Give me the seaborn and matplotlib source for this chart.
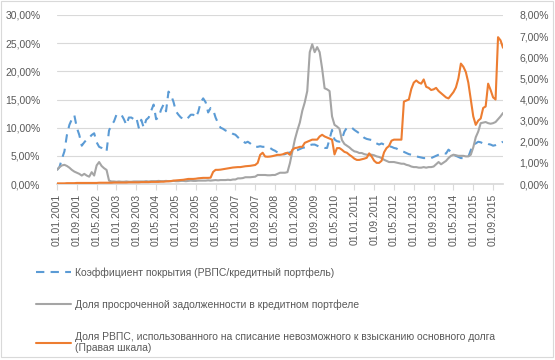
import matplotlib
matplotlib.use("Agg")
import matplotlib.pyplot as plt
import matplotlib.ticker as mticker
from matplotlib.patches import Rectangle
import seaborn as sns
import pandas as pd

# ── data (monthly, 01.01.2001 … 01.01.2016) ─────────────────
dates = pd.date_range("2001-01-01", periods=181, freq="MS")

coverage = [  # Коэффициент покрытия, % (left axis)
    2.5, 3.0, 4.5, 5.8, 8.7, 10.5, 11.5, 12.2, 10.0, 8.7, 6.8, 7.4,
    7.9, 8.2, 8.7, 9.0, 7.4, 6.6, 6.4, 5.9, 5.8, 9.5, 10.5, 11.1,
    12.3, 12.3, 12.3, 11.5, 10.5, 11.8, 11.8, 11.5, 11.8, 10.0, 11.4, 10.0,
    11.4, 11.8, 13.0, 14.1, 11.5, 11.8, 13.2, 14.1, 12.9, 16.4, 15.8, 14.6,
    12.9, 12.3, 11.8, 11.6, 11.4, 11.8, 12.3, 12.3, 11.8, 12.8, 14.5, 15.2,
    14.5, 12.7, 13.5, 13.2, 11.8, 10.8, 10.0, 9.8, 9.5, 9.3, 9.2, 8.9,
    8.75, 8.3, 7.9, 7.6, 7.3, 7.5, 7.2, 6.8, 6.6, 6.6, 6.7, 6.6,
    6.6, 6.6, 6.4, 6.1, 5.9, 5.6, 5.4, 5.2, 5.3, 5.5, 5.6, 5.8,
    5.9, 6.0, 6.2, 6.4, 6.5, 6.6, 6.9, 7.0, 7.0, 6.8, 6.6, 6.5,
    6.4, 6.4, 8.0, 9.6, 7.9, 7.6, 7.5, 8.0, 9.3, 10.0, 10.0, 10.0,
    9.6, 9.3, 9.0, 8.6, 8.2, 8.0, 7.9, 7.8, 7.4, 7.2, 7.0, 7.2,
    7.0, 6.8, 6.7, 6.6, 6.4, 6.3, 6.0, 5.8, 5.7, 5.5, 5.3, 5.2,
    5.0, 4.9, 4.8, 4.7, 4.6, 4.6, 4.5, 4.6, 4.8, 5.0, 5.2, 5.4,
    5.5, 5.4, 6.1, 5.7, 5.2, 5.0, 4.8, 4.6, 4.6, 4.7, 4.8, 6.0,
    7.0, 7.2, 7.5, 7.4, 7.2, 7.3, 7.1, 7.0, 6.8, 6.9, 7.1, 7.3,
    7.5,
]

overdue = [  # Доля просроченной задолженности, % (left axis)
    2.5, 3.0, 3.3, 3.4, 3.2, 2.9, 2.5, 2.2, 2.0, 1.8, 1.5, 1.8,
    1.5, 1.3, 2.1, 1.5, 3.3, 3.9, 3.2, 2.8, 2.5, 0.6, 0.45, 0.45,
    0.4, 0.45, 0.4, 0.4, 0.45, 0.4, 0.4, 0.45, 0.45, 0.45, 0.45, 0.45,
    0.5, 0.45, 0.5, 0.5, 0.5, 0.55, 0.5, 0.5, 0.55, 0.5, 0.5, 0.55,
    0.5, 0.5, 0.55, 0.55, 0.5, 0.55, 0.6, 0.55, 0.55, 0.6, 0.6, 0.6,
    0.6, 0.65, 0.6, 0.65, 0.7, 0.65, 0.7, 0.7, 0.7, 0.75, 0.7, 0.8,
    0.8, 1.0, 1.0, 1.05, 1.2, 1.2, 1.2, 1.25, 1.3, 1.6, 1.6, 1.6,
    1.6, 1.55, 1.55, 1.6, 1.6, 1.8, 2.0, 2.0, 2.0, 2.1, 3.7, 5.8,
    7.9, 9.5, 10.9, 13.0, 14.5, 16.5, 23.4, 24.8, 23.4, 24.3, 23.4, 20.5,
    17.0, 16.8, 16.5, 12.0, 10.5, 10.2, 9.8, 7.8, 7.1, 6.8, 6.5, 6.1,
    5.8, 5.7, 5.5, 5.5, 5.3, 5.2, 5.2, 5.2, 5.1, 4.9, 4.8, 4.6,
    4.3, 4.1, 3.9, 3.9, 3.9, 3.8, 3.7, 3.6, 3.6, 3.4, 3.3, 3.1,
    3.0, 3.0, 2.9, 2.9, 3.0, 2.9, 3.0, 3.0, 3.1, 3.5, 3.9, 3.5,
    3.8, 4.1, 4.6, 5.0, 5.2, 5.1, 5.0, 5.0, 5.0, 4.9, 4.9, 5.2,
    6.5, 8.3, 9.3, 10.8, 10.9, 11.0, 10.8, 10.7, 10.8, 11.0, 11.5, 12.0,
    12.6,
]

writeoff = [  # Доля РВПС на списание, % (right axis)
    0.03, 0.03, 0.03, 0.03, 0.04, 0.04, 0.04, 0.04, 0.05, 0.05, 0.05, 0.05,
    0.05, 0.05, 0.05, 0.05, 0.05, 0.06, 0.06, 0.06, 0.06, 0.06, 0.06, 0.07,
    0.07, 0.07, 0.07, 0.07, 0.07, 0.08, 0.08, 0.08, 0.08, 0.08, 0.09, 0.09,
    0.09, 0.09, 0.10, 0.10, 0.10, 0.10, 0.11, 0.11, 0.12, 0.13, 0.14, 0.16,
    0.17, 0.18, 0.19, 0.20, 0.22, 0.24, 0.24, 0.24, 0.25, 0.27, 0.28, 0.29,
    0.29, 0.29, 0.30, 0.57, 0.67, 0.67, 0.68, 0.70, 0.72, 0.74, 0.76, 0.78,
    0.79, 0.80, 0.80, 0.82, 0.84, 0.85, 0.86, 0.88, 0.90, 1.00, 1.38, 1.48,
    1.30, 1.29, 1.30, 1.32, 1.35, 1.38, 1.38, 1.40, 1.45, 1.48, 1.38, 1.62,
    1.70, 1.72, 1.76, 1.76, 1.95, 2.00, 2.05, 2.10, 2.10, 2.10, 2.25, 2.33,
    2.25, 2.20, 2.15, 2.10, 1.40, 1.70, 1.70, 1.62, 1.52, 1.48, 1.38, 1.30,
    1.20, 1.14, 1.14, 1.17, 1.20, 1.24, 1.45, 1.30, 1.10, 1.00, 1.00, 1.10,
    1.50, 1.70, 1.80, 2.05, 2.10, 2.10, 2.10, 2.10, 3.90, 3.95, 4.00, 4.50,
    4.80, 4.90, 4.80, 4.75, 4.95, 4.60, 4.55, 4.45, 4.48, 4.55, 4.40, 4.30,
    4.20, 4.10, 4.05, 4.20, 4.35, 4.57, 5.00, 5.70, 5.55, 5.30, 4.80, 4.00,
    3.20, 2.80, 3.00, 3.10, 3.60, 3.67, 4.75, 4.45, 4.10, 4.00, 6.95, 6.80,
    6.45,
]

labels = [
    "Коэффициент покрытия (РВПС/кредитный портфель)",
    "Доля просроченной задолженности в кредитном портфеле",
    "Доля РВПС, использованного на списание невозможного к взысканию основного долга\n(Правая шкала)",
]

BLUE, GRAY, ORANGE = "#5B9BD5", "#A5A5A5", "#ED7D31"
TXT, GRID = "#595959", "#D9D9D9"

sns.set_theme(style="white")
plt.rcParams["font.family"] = ["Liberation Sans", "DejaVu Sans"]
plt.rcParams["font.size"] = 7.5

idx = list(range(len(dates)))

fig = plt.figure(figsize=(5.55, 3.6), dpi=100, facecolor="white")
ax = fig.add_axes([57 / 555, 1 - 184 / 360, 446 / 555, 169 / 360])
ax2 = ax.twinx()

sns.lineplot(x=idx, y=coverage, ax=ax, color=BLUE, lw=1.5, estimator=None,
             linestyle=(0, (4, 3)), label=labels[0])
sns.lineplot(x=idx, y=overdue, ax=ax, color=GRAY, lw=1.5, estimator=None,
             label=labels[1])
sns.lineplot(x=idx, y=writeoff, ax=ax2, color=ORANGE, lw=1.5, estimator=None,
             label=labels[2])

for a in (ax, ax2):
    if a.get_legend():
        a.get_legend().remove()
    for s in a.spines.values():
        s.set_visible(False)
    a.set_xlabel("")
    a.set_ylabel("")

ax.set_xlim(0, len(idx) - 1)
ax.set_ylim(0, 30)
ax2.set_ylim(0, 8)
ax.set_yticks(range(0, 31, 5))
ax2.set_yticks(range(0, 9, 1))
pct = mticker.FuncFormatter(lambda v, _: f"{v:.2f}%".replace(".", ","))
ax.yaxis.set_major_formatter(pct)
ax2.yaxis.set_major_formatter(pct)

xt = idx[::8]
ax.set_xticks(xt)
ax.set_xticklabels([dates[i].strftime("%d.%m.%Y") for i in xt], rotation=90)

ax.grid(axis="y", color=GRID, lw=0.8)
ax.set_axisbelow(True)
ax2.grid(False)
ax.spines["bottom"].set_visible(True)
ax.spines["bottom"].set_color(GRID)
ax.tick_params(axis="x", bottom=True, length=4, width=0.8, color=GRID,
               labelcolor=TXT, labelsize=7.5, pad=3)
ax.tick_params(axis="y", length=0, labelcolor=TXT, labelsize=7.5, pad=12)
ax2.tick_params(axis="y", length=0, labelcolor=TXT, labelsize=7.5, pad=12)

handles = ax.get_lines()[:2] + ax2.get_lines()[:1]
fig.legend(handles, labels, loc="upper left",
           bbox_to_anchor=(36 / 555, 1 - 267 / 360), frameon=False,
           fontsize=7.5, labelcolor=TXT, handlelength=3.4, handletextpad=0.3,
           labelspacing=2.1, borderpad=0, borderaxespad=0)

fig.patches.append(Rectangle((1 / 555, 1 - 357 / 360), 552 / 555, 356 / 360,
                             transform=fig.transFigure, fill=False,
                             edgecolor=GRID, lw=0.8))

fig.savefig("out.png", dpi=100, facecolor="white")
